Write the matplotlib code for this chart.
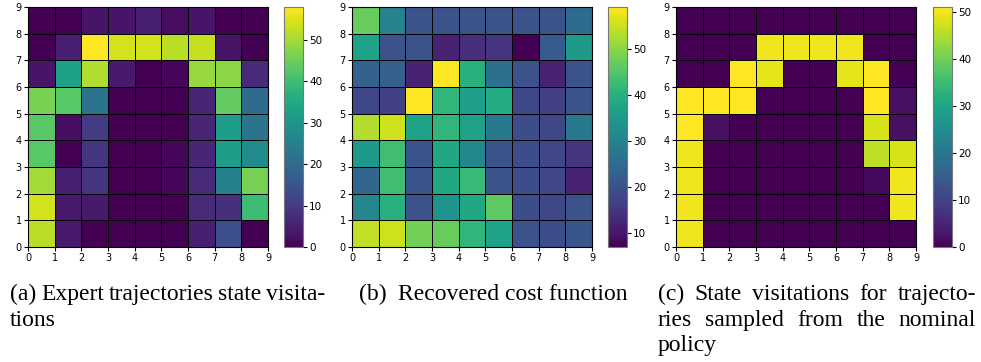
import numpy as np
import matplotlib
matplotlib.use("Agg")
import matplotlib.pyplot as plt

# Grid values, rows listed from top (y = 8) to bottom (y = 0), columns x = 0..8
expert_visits = [
    [0, 0, 3, 3, 5, 2, 3, 0, 0],
    [0, 5, 58, 54, 54, 52, 53, 3, 0],
    [3, 33, 51, 4, 0, 1, 49, 48, 7],
    [46, 43, 22, 0, 0, 0, 6, 44, 20],
    [43, 2, 10, 0, 0, 0, 6, 32, 22],
    [43, 0, 9, 0, 0, 1, 6, 32, 28],
    [50, 5, 9, 0, 0, 1, 7, 25, 46],
    [54, 4, 4, 0, 0, 0, 7, 8, 40],
    [52, 4, 0, 0, 0, 0, 5, 14, 0],
]

recovered_cost = [
    [47, 30, 20, 20, 20, 20, 20, 20, 25],
    [37, 20, 20, 12, 14, 15, 7, 22, 35],
    [23, 23, 12, 59, 40, 26, 20, 12, 20],
    [18, 17, 59, 41, 36, 39, 18, 17, 20],
    [53, 55, 37, 41, 37, 28, 19, 18, 28],
    [35, 43, 20, 38, 31, 20, 19, 18, 15],
    [24, 43, 20, 38, 42, 20, 19, 18, 12],
    [31, 40, 20, 34, 38, 46, 19, 18, 20],
    [54, 55, 48, 47, 41, 37, 20, 19, 21],
]

policy_visits = [
    [0, 0, 0, 0, 0, 0, 0, 0, 0],
    [0, 0, 0, 50, 50, 50, 50, 0, 0],
    [0, 0, 51, 49, 0, 0, 49, 51, 0],
    [51, 51, 51, 0, 0, 0, 0, 51, 2],
    [51, 2, 0, 0, 0, 0, 0, 48, 2],
    [50, 0, 0, 0, 0, 0, 0, 46, 48],
    [50, 0, 0, 0, 0, 0, 0, 1, 50],
    [50, 0, 0, 0, 0, 0, 0, 0, 50],
    [50, 0, 0, 0, 0, 0, 0, 0, 0],
]

grid_ticks = list(range(10))
cbar_ticks = [
    [0, 10, 20, 30, 40, 50],
    [10, 20, 30, 40, 50],
    [0, 10, 20, 30, 40, 50],
]

W, H = 981, 362
fig = plt.figure(figsize=(W / 100, H / 100), dpi=100)

panels = [expert_visits, recovered_cost, policy_visits]
ax_left = [28, 352, 676]
cb_left = [284, 608, 933]
top, size = 7, 240

for grid, axl, cbl, cticks in zip(panels, ax_left, cb_left, cbar_ticks):
    ax = fig.add_axes([axl / W, 1 - (top + size) / H, size / W, size / H])
    z = np.array(grid, dtype=float)[::-1]
    edges = np.arange(10)
    mesh = ax.pcolormesh(edges, edges, z, cmap="viridis",
                         edgecolors="black", linewidth=0.6)
    ax.set_xlim(0, 9)
    ax.set_ylim(0, 9)
    ax.set_xticks(grid_ticks)
    ax.set_yticks(grid_ticks)
    ax.tick_params(labelsize=7, length=3, pad=1.5)
    cax = fig.add_axes([cbl / W, 1 - (top + size) / H, 19 / W, size / H])
    cb = fig.colorbar(mesh, cax=cax)
    cb.set_ticks(cticks)
    cb.ax.tick_params(labelsize=7.5, length=3, pad=1.5)
    cb.outline.set_edgecolor("#777777")

serif = ["Liberation Serif", "DejaVu Serif"]
cap_size = 17


def place_line(words, x0, y, x1=None):
    """Place words on one baseline; spread them to end at x1 when given."""
    texts = [fig.text(x0 / W, 1 - y / H, w, family=serif, fontsize=cap_size,
                      ha="left", va="baseline") for w in words]
    if x1 is None or len(words) < 2:
        return texts
    fig.canvas.draw()
    r = fig.canvas.get_renderer()
    widths = [t.get_window_extent(r).width for t in texts]
    gap = (x1 - x0 - sum(widths)) / (len(words) - 1)
    x = x0
    for t, w in zip(texts, widths):
        t.set_x(x / W)
        x += w + gap
    return texts


place_line("(a) Expert trajectories state visita-".split(), 10, 300, 325)
place_line(["tions"], 10, 326)
place_line(["(b)", "Recovered cost function"], 359, 300, 627)
place_line("(c) State visitations for trajecto-".split(), 658, 300, 976)
place_line("ries sampled from the nominal".split(), 658, 326, 976)
place_line(["policy"], 658, 351)

fig.savefig("out.png", dpi=100)
